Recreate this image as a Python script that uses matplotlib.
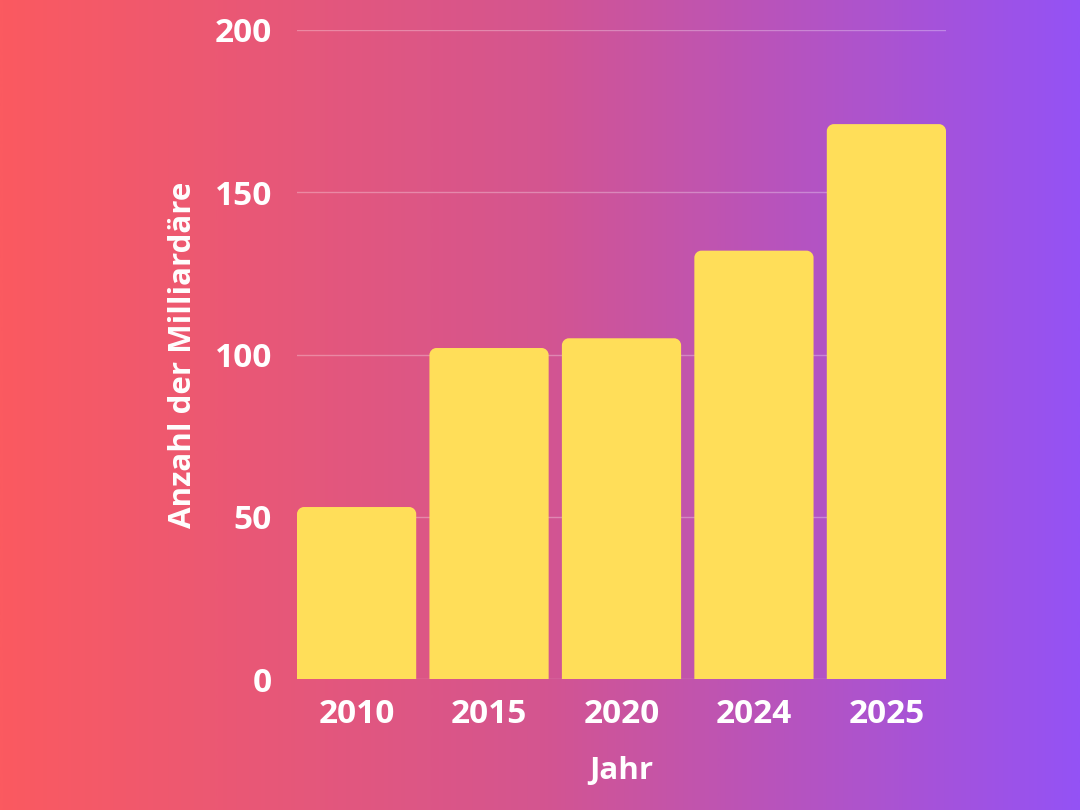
import numpy as np
import matplotlib
matplotlib.use("Agg")
import matplotlib.pyplot as plt
from matplotlib.path import Path
from matplotlib.patches import PathPatch
from matplotlib.colors import LinearSegmentedColormap

years = ["2010", "2015", "2020", "2024", "2025"]
values = [53, 102, 105, 132, 171]
yticks = [0, 50, 100, 150, 200]

plt.rcParams['font.family'] = ['Open Sans', 'DejaVu Sans']

fig = plt.figure(figsize=(10.8, 8.1), dpi=100)
# gradient background
bg = fig.add_axes([0, 0, 1, 1], zorder=0)
cmap = LinearSegmentedColormap.from_list("g", ["#FB5A60", "#D45590", "#9452F5"])
grad = np.linspace(0, 1, 512).reshape(1, -1)
bg.imshow(grad, aspect="auto", cmap=cmap, extent=[0, 1, 0, 1])
bg.set_axis_off()

ax = fig.add_axes([297/1080, 131/810, 649/1080, 649/810], zorder=1)
ax.patch.set_alpha(0)
ax.set_xlim(-0.45, 4.45)
ax.set_ylim(0, 200)

for s in ax.spines.values():
    s.set_visible(False)

for t in yticks:
    ax.axhline(t, color="white", alpha=0.3, lw=1, zorder=1)

x = np.arange(len(years))
w = 0.9
# radius in pixels -> data units
px_x = 649 / 4.9
px_y = 649 / 200
r = 7
rx, ry = r / px_x, r / px_y
for xi, v in zip(x, values):
    x0, x1 = xi - w/2, xi + w/2
    k = 0.5523
    verts = [(x0, 0), (x1, 0), (x1, v - ry),
             (x1, v - ry + k*ry), (x1 - rx + k*rx, v), (x1 - rx, v),
             (x0 + rx, v),
             (x0 + rx - k*rx, v), (x0, v - ry + k*ry), (x0, v - ry),
             (x0, 0)]
    codes = [Path.MOVETO, Path.LINETO, Path.LINETO,
             Path.CURVE4, Path.CURVE4, Path.CURVE4,
             Path.LINETO,
             Path.CURVE4, Path.CURVE4, Path.CURVE4,
             Path.CLOSEPOLY]
    ax.add_patch(PathPatch(Path(verts, codes), facecolor="#FFDE59", edgecolor="none", zorder=2))

ax.set_xticks(x)
ax.set_xticklabels(years)
ax.set_yticks(yticks)
ax.tick_params(length=0, colors="white", labelsize=24, pad=14)
ax.tick_params(axis="y", pad=18)
for lab in ax.get_xticklabels() + ax.get_yticklabels():
    lab.set_fontweight("bold")

ax.set_xlabel("Jahr", color="white", fontsize=22.5, fontweight="bold", labelpad=18)
ax.set_ylabel("Anzahl der Milliardäre", color="white", fontsize=22.5, fontweight="bold", labelpad=12)

fig.savefig("out.png", dpi=100)
